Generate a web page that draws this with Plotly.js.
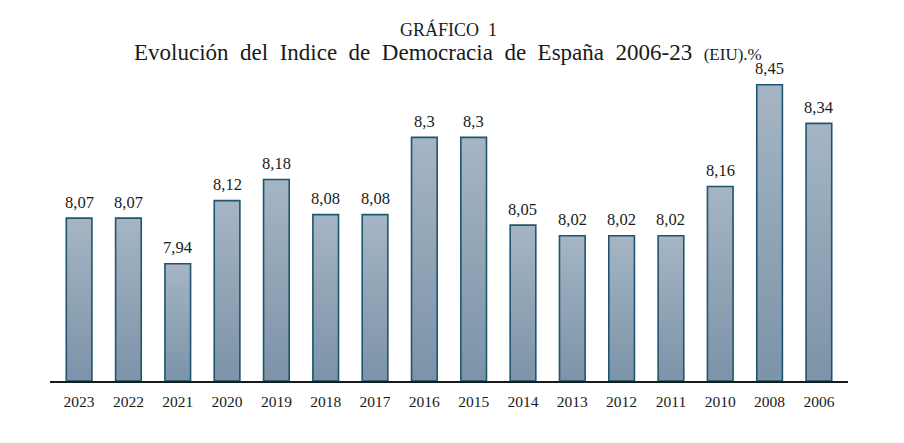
<!DOCTYPE html>
<html>
<head>
<meta charset="utf-8">
<script src="https://cdn.plot.ly/plotly-3.0.1.min.js"></script>
<style>
  html, body { margin: 0; padding: 0; background: #fff; }
  #chart { width: 904px; height: 443px; }
</style>
</head>
<body>
<div id="chart"></div>
<script>
// años (en el orden del gráfico) y valor del índice
var years = ['2023', '2022', '2021', '2020', '2019', '2018', '2017', '2016',
             '2015', '2014', '2013', '2012', '2011', '2010', '2008', '2006'];
var scores = [8.07, 8.07, 7.94, 8.12, 8.18, 8.08, 8.08, 8.3,
              8.3, 8.05, 8.02, 8.02, 8.02, 8.16, 8.45, 8.34];

var serif = '"Liberation Serif", "DejaVu Serif", serif';
var yMin = 7.606;
var baseY = 381, topY = 60, pxPerUnit = 351;

// las barras arrancan en yMin (eje truncado como en el original)
var bars = {
  type: 'bar',
  x: years,
  y: scores.map(function(v) { return v - yMin; }),
  base: yMin,
  width: 0.52,
  marker: { color: '#8fa3b6', line: { color: '#1e5570', width: 1.6 } },
  hoverinfo: 'skip'
};

// etiquetas de valor con coma decimal, encima de cada barra
// (en eje de categorías la anotación usa el índice de la categoría)
var valueLabels = years.map(function(yr, i) {
  return {
    x: i, y: scores[i], xref: 'x', yref: 'y',
    text: String(scores[i]).replace('.', ','),
    showarrow: false, xanchor: 'center', yanchor: 'middle', yshift: 16,
    font: { family: serif, size: 16.5, color: '#1a1a1a' }
  };
});

var layout = {
  width: 904,
  height: 443,
  margin: { l: 50, r: 56, t: topY, b: 443 - baseY },
  paper_bgcolor: '#fff',
  plot_bgcolor: '#fff',
  showlegend: false,
  xaxis: {
    type: 'category',
    range: [-0.59, 15.59],
    showline: true,
    linecolor: '#1a1a1a',
    linewidth: 2,
    ticks: '',
    ticklabelstandoff: 5,
    tickfont: { family: serif, size: 15.5, color: '#1a1a1a' },
    showgrid: false,
    zeroline: false,
    fixedrange: true
  },
  yaxis: {
    range: [yMin, yMin + (baseY - topY) / pxPerUnit],
    visible: false,
    showgrid: false,
    zeroline: false,
    fixedrange: true
  },
  annotations: [
    {
      xref: 'paper', yref: 'paper',
      x: (448 - 50) / 798, y: (baseY - 29) / (baseY - topY),
      text: 'GRÁFICO  1', showarrow: false,
      xanchor: 'center', yanchor: 'middle',
      font: { family: serif, size: 18, color: '#1a1a1a' }
    },
    {
      xref: 'paper', yref: 'paper',
      x: (132 - 50) / 798, y: (baseY - 52) / (baseY - topY),
      text: 'Evolución  del  Indice  de  Democracia  de  España  2006-23  <span style="font-size:17px">(EIU).%</span>',
      showarrow: false,
      xanchor: 'left', yanchor: 'middle',
      font: { family: serif, size: 23, color: '#1a1a1a' }
    }
  ].concat(valueLabels)
};

Plotly.newPlot('chart', [bars], layout, { displayModeBar: false, staticPlot: true }).then(function(gd) {
  // degradado vertical de las barras, como en el original
  var svg = gd.querySelector('.main-svg');
  var ns = 'http://www.w3.org/2000/svg';
  var defs = svg.querySelector('defs') || svg.insertBefore(document.createElementNS(ns, 'defs'), svg.firstChild);
  var grad = document.createElementNS(ns, 'linearGradient');
  grad.setAttribute('id', 'barGrad');
  grad.setAttribute('x1', '0'); grad.setAttribute('y1', '0');
  grad.setAttribute('x2', '0'); grad.setAttribute('y2', '1');
  [['0', '#a5b5c4'], ['1', '#7c93a8']].forEach(function(s) {
    var stop = document.createElementNS(ns, 'stop');
    stop.setAttribute('offset', s[0]);
    stop.setAttribute('stop-color', s[1]);
    grad.appendChild(stop);
  });
  defs.appendChild(grad);
  gd.querySelectorAll('.bars .point path').forEach(function(p) {
    p.style.fill = 'url(#barGrad)';
  });
});
</script>
</body>
</html>
